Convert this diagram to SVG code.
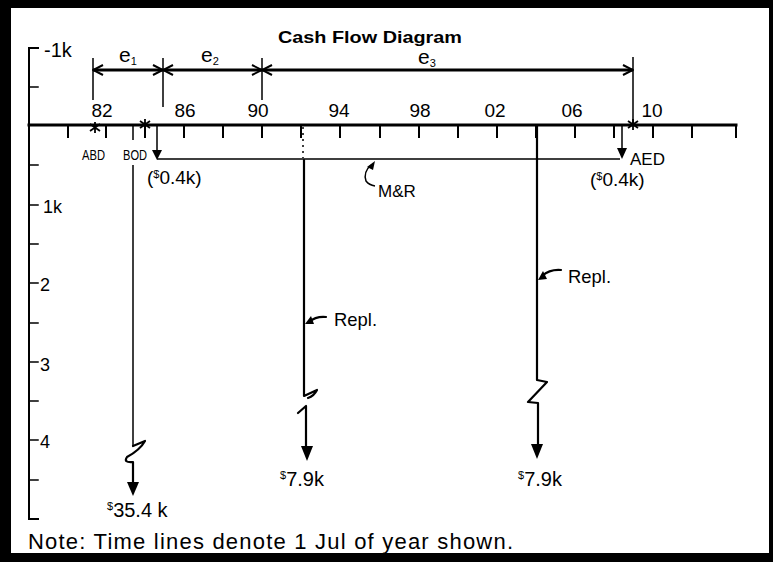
<svg xmlns="http://www.w3.org/2000/svg" width="773" height="562" viewBox="0 0 773 562">
<style>
.hw{font-family:"Liberation Sans","DejaVu Sans",sans-serif;fill:#000}
.title{font-family:"Liberation Sans",Arial,sans-serif;font-weight:bold;fill:#000}
.ax{stroke:#000;fill:none;stroke-linecap:square}
.thin{stroke:#000;fill:none;stroke-width:1.5}
.flow{stroke:#000;fill:none;stroke-width:2.2;stroke-linejoin:round;stroke-linecap:round}
.head{fill:#000;stroke:none}
.sup{font-size:11px}
</style>
<defs>
<marker id="chev" viewBox="0 0 12 12" refX="11" refY="6" markerWidth="12" markerHeight="12" markerUnits="userSpaceOnUse" orient="auto-start-reverse">
<path d="M1 1 L11 6 L1 11" fill="none" stroke="#000" stroke-width="2"/>
</marker>
</defs>
<path fill="#000" fill-rule="evenodd" d="M0 0H773V562H0Z M11 8V553H769V8Z"/>
<text class="title" x="370" y="43" font-size="17" text-anchor="middle" textLength="184" lengthAdjust="spacingAndGlyphs">Cash Flow Diagram</text>
<g id="y-axis">
<path class="ax" stroke-width="2" d="M38 48H29V519H38"/>
<path class="ax" stroke-width="1.5" d="M29 87H38M29 165H38M29 205H38M29 244H38M29 283H38M29 323H38M29 362H38M29 401H38M29 440H38M29 480H38"/>
<text class="hw" x="44" y="57" font-size="20">-1k</text>
<text class="hw" x="43" y="213" font-size="18">1k</text>
<text class="hw" x="40" y="291" font-size="18">2</text>
<text class="hw" x="40" y="371" font-size="18">3</text>
<text class="hw" x="40" y="448" font-size="18">4</text>
</g>
<g id="x-axis">
<path class="ax" stroke-width="3" d="M29 125H736"/>
<path class="ax" stroke-width="2" d="M68 125V137M106 125V137M145 125V137M184 125V137M223 125V137M262 125V137M301 125V137M340 125V137M380 125V137M419 125V137M458 125V137M497 125V137M536 125V137M575 125V137M614 125V137M653 125V137M692 125V137M736 125V137"/>
<g class="hw" font-size="19" text-anchor="middle">
<text x="102" y="117">82</text>
<text x="185" y="117">86</text>
<text x="258" y="117">90</text>
<text x="339" y="117">94</text>
<text x="420" y="117">98</text>
<text x="495" y="117">02</text>
<text x="572" y="117">06</text>
<text x="652" y="117">10</text>
</g>
</g>
<g id="stars" stroke="#000" stroke-width="1.8">
<path d="M95 122V133M90 124L100 131M100 124L90 131"/>
<path d="M145 119V130M140 121L150 128M150 121L140 128"/>
<path d="M633 119V130M628 121L638 128M638 121L628 128"/>
</g>
<g id="dimensions">
<path class="thin" d="M93 58V100M163 58V107M262 58V100M633 57V125"/>
<line x1="93" y1="70" x2="163" y2="70" stroke="#000" stroke-width="3" marker-start="url(#chev)" marker-end="url(#chev)"/>
<line x1="163" y1="70" x2="262" y2="70" stroke="#000" stroke-width="3" marker-start="url(#chev)" marker-end="url(#chev)"/>
<line x1="262" y1="70" x2="633" y2="70" stroke="#000" stroke-width="3" marker-start="url(#chev)" marker-end="url(#chev)"/>
<text class="hw" x="119" y="62" font-size="21">e<tspan font-size="11" dy="3">1</tspan></text>
<text class="hw" x="201" y="62" font-size="21">e<tspan font-size="11" dy="3">2</tspan></text>
<text class="hw" x="418" y="64" font-size="21">e<tspan font-size="11" dy="3">3</tspan></text>
</g>
<g id="abd">
<text class="hw" x="82" y="160" font-size="14" textLength="23" lengthAdjust="spacingAndGlyphs">ABD</text>
</g>
<g id="bod">
<text class="hw" x="123" y="160" font-size="14" textLength="24" lengthAdjust="spacingAndGlyphs">BOD</text>
</g>
<g id="mr">
<path class="thin" d="M157 125V152M157 159H620M622 125V150"/>
<polygon class="head" points="152,150 162,150 157,160"/>
<polygon class="head" points="617,148 627,148 622,159"/>
<text class="hw" x="147" y="184" font-size="19">(<tspan class="sup" dy="-6">$</tspan><tspan dy="6">0.4k)</tspan></text>
<text class="hw" x="630" y="165" font-size="17">AED</text>
<text class="hw" x="590" y="186" font-size="19">(<tspan class="sup" dy="-6">$</tspan><tspan dy="6">0.4k)</tspan></text>
<path class="thin" stroke-width="2" d="M371 165Q363 172 366 181Q369 185 375 186"/>
<polygon class="head" points="367,167 375,161 373,170"/>
<text class="hw" x="378" y="197" font-size="17">M&amp;R</text>
</g>
<g id="connectors">
<path class="thin" d="M133 125V140M133 165V446"/>
<path class="flow" stroke-width="1.8" d="M133 446L145 441Q140 450 127 457Q123 463 133 462M133 462V484"/>
<polygon class="head" points="127,482 139,482 133,496"/>
<text class="hw" x="107" y="517" font-size="20"><tspan class="sup" font-size="12" dy="-7">$</tspan><tspan dy="7">35.4 k</tspan></text>
<path stroke="#000" stroke-width="1.5" stroke-dasharray="2,4" d="M303 127V158"/>
<path class="flow" d="M304 160V396L317 390Q314 396 308 398M298 413L306 406V448"/>
<polygon class="head" points="301,446 313,446 307,461"/>
<text class="hw" x="280" y="486" font-size="20"><tspan class="sup" font-size="12" dy="-7">$</tspan><tspan dy="7">7.9k</tspan></text>
<path class="flow" d="M537 125V380L547 382L528 402L538 403V446"/>
<polygon class="head" points="531,444 543,444 537,459"/>
<text class="hw" x="518" y="486" font-size="20"><tspan class="sup" font-size="12" dy="-7">$</tspan><tspan dy="7">7.9k</tspan></text>
<path class="flow" stroke-width="1.8" d="M326 317Q316 316 309 322"/>
<polygon class="head" points="305,324 311,316 314,324"/>
<path class="flow" stroke-width="1.8" d="M561 270Q550 269 542 276"/>
<polygon class="head" points="538,280 543,271 547,279"/>
</g>
<text class="hw" x="334" y="326" font-size="19" textLength="43" lengthAdjust="spacingAndGlyphs">Repl.</text>
<text class="hw" x="568" y="283" font-size="19" textLength="43" lengthAdjust="spacingAndGlyphs">Repl.</text>
<text class="hw" x="28" y="549" font-size="22" textLength="485" lengthAdjust="spacing">Note: Time lines denote 1 Jul of year shown.</text>
</svg>
